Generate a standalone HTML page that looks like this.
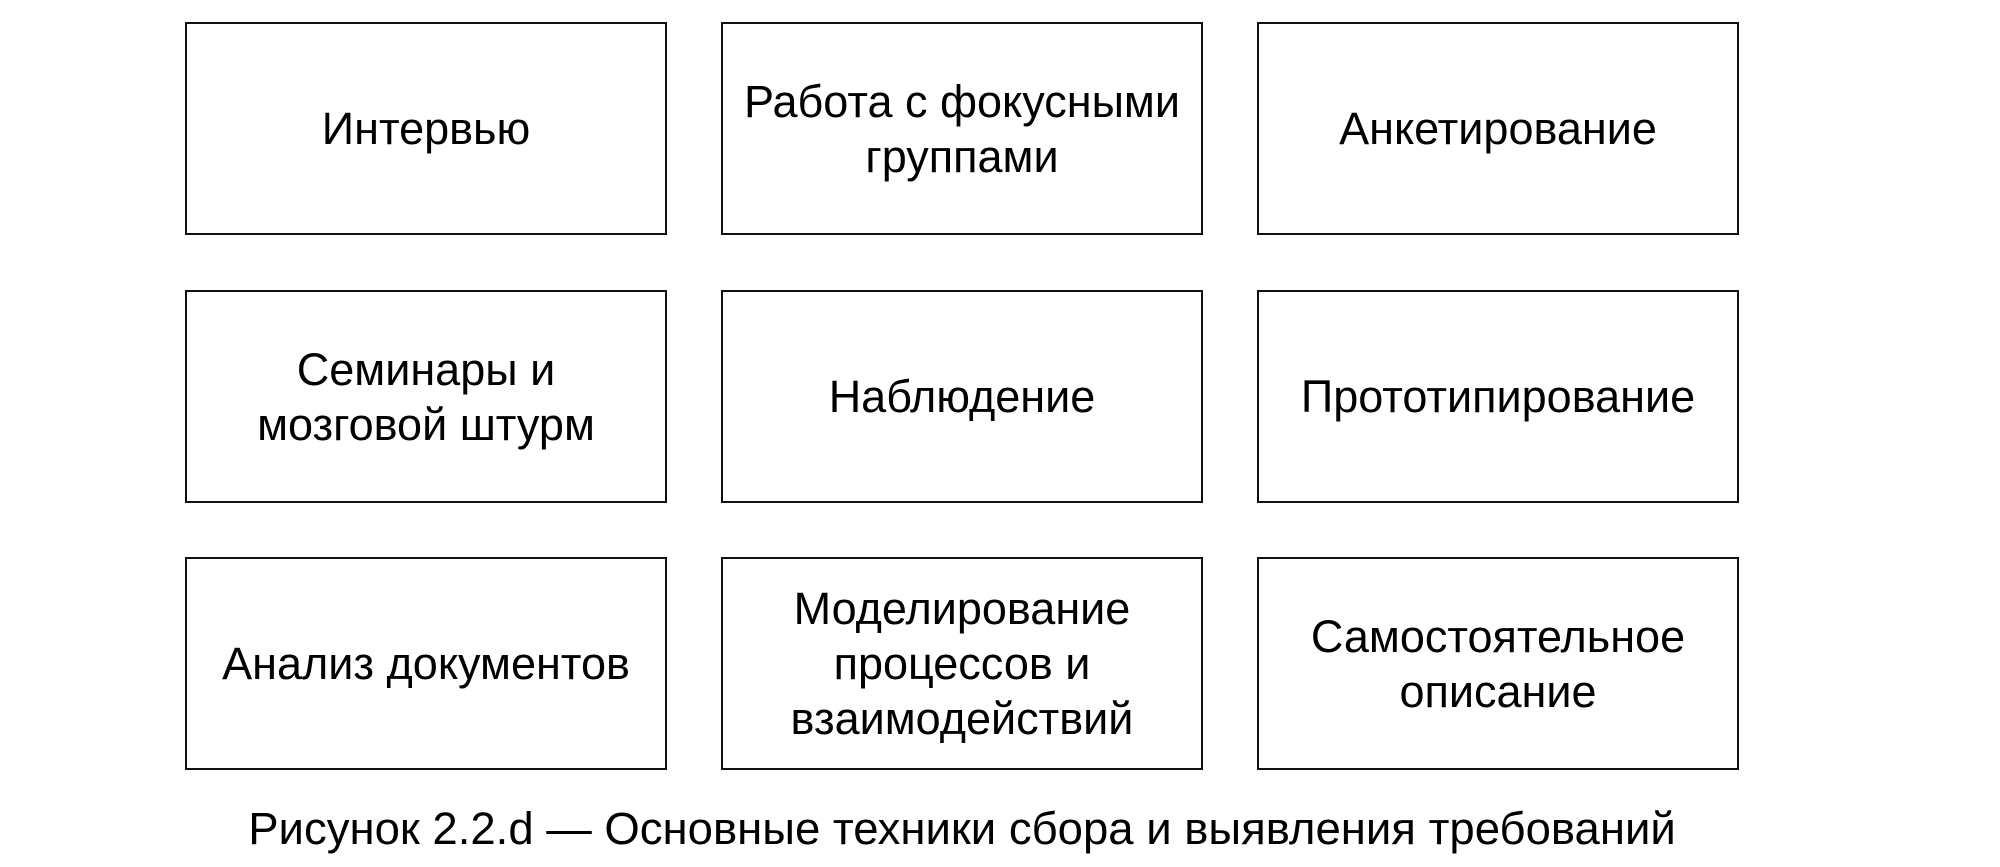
<!DOCTYPE html>
<html><head><meta charset="utf-8"><style>
body{margin:0;width:2000px;height:867px;background:#fff;position:relative;overflow:hidden;font-family:"Liberation Sans",Arial,sans-serif;color:#000}
.b{position:absolute;width:482px;height:213px;border:2px solid #111;box-sizing:border-box;display:flex;align-items:center;justify-content:center;text-align:center;font-size:45px;line-height:55px}
.c{position:absolute;left:-38px;width:2000px;top:805px;text-align:center;font-size:45.5px;line-height:48px}
</style></head><body>
<div class="b" style="left:185px;top:22px">Интервью</div>
<div class="b" style="left:721px;top:22px">Работа с фокусными<br>группами</div>
<div class="b" style="left:1257px;top:22px">Анкетирование</div>
<div class="b" style="left:185px;top:290px">Семинары и<br>мозговой штурм</div>
<div class="b" style="left:721px;top:290px">Наблюдение</div>
<div class="b" style="left:1257px;top:290px">Прототипирование</div>
<div class="b" style="left:185px;top:557px">Анализ документов</div>
<div class="b" style="left:721px;top:557px">Моделирование<br>процессов и<br>взаимодействий</div>
<div class="b" style="left:1257px;top:557px">Самостоятельное<br>описание</div>
<div class="c">Рисунок 2.2.d — Основные техники сбора и выявления требований</div>
</body></html>
